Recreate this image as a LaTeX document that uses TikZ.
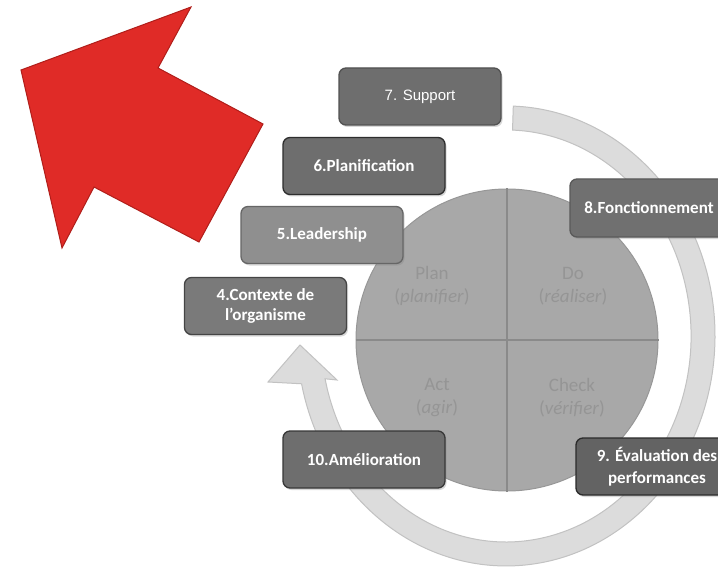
\documentclass[tikz,border=0pt]{standalone}
\usepackage{fontspec}
\newfontfamily\carl{Carlito}
\newfontfamily\libsans{Liberation Sans}
\usetikzlibrary{shadows}
\definecolor{ringfill}{HTML}{DCDCDC}
\definecolor{ringedge}{HTML}{C2C2C2}
\definecolor{pdcafill}{HTML}{A8A8A8}
\definecolor{pdcaedge}{HTML}{979797}
\definecolor{pdcaline}{HTML}{8A8A8A}
\definecolor{pdcatxt}{HTML}{959595}
\definecolor{redfill}{HTML}{E02B27}
\definecolor{rededge}{HTML}{B01E1A}
\begin{document}
\begin{tikzpicture}[x=1pt,y=-1pt,
  box/.style={rounded corners=7pt, line width=1.3pt, text=white, align=center,
    inner sep=0pt, minimum width=162pt, minimum height=57pt,
    font=\carl\bfseries\fontsize{17}{20}\selectfont,
    drop shadow={shadow xshift=1.5pt, shadow yshift=-2pt, opacity=0.3}},
  pdcatext/.style={text=pdcatxt, align=center, font=\carl\fontsize{19}{23}\selectfont}]
\useasboundingbox (0,0) rectangle (718,567);
\clip (0,0) rectangle (718,567);
\fill[white] (0,0) rectangle (718,567);
% red arrow
\filldraw[fill=redfill, draw=rededge, line width=1pt, line join=miter]
  (21,70) -- (191,7) -- (158,68) -- (263,124) -- (199,242) -- (94,187) -- (62,248) -- cycle;
% ring arrow
\filldraw[fill=ringfill, draw=ringedge, line width=1pt]
  (513.3,106.1) arc[start angle=-88, end angle=168, x radius=209, y radius=230]
  -- (268,382) -- (300,345) -- (337,380) -- (325.1,378.8)
  arc[start angle=168, end angle=-88, x radius=185, y radius=206] -- cycle;
% PDCA circle
\node[circle, fill=pdcafill, draw=pdcaedge, line width=1pt, minimum size=302pt, inner sep=0pt] (pdca) at (507,340) {};
\draw[pdcaline, line width=1.5pt] (pdca.north) -- (pdca.south);
\draw[pdcaline, line width=1.5pt] (pdca.west) -- (pdca.east);
\node[pdcatext] (plan) at (432,286) {Plan\\(\textit{planifier})};
\node[pdcatext] (do) at (573,286) {Do\\(\textit{réaliser})};
\node[pdcatext] (act) at (437,398) {Act\\(\textit{agir})};
\node[pdcatext] (check) at (572,398) {Check\\(\textit{vérifier})};
% boxes
\node[box, fill=black!57, draw=black!68, font=\libsans\fontsize{15}{18}\selectfont] (b7) at (420,96.5) {7. Support};
\node[box, fill=black!57, draw=black!82] (b6) at (364,166) {6.Planification};
\node[box, fill=black!44, draw=black!60] (b5) at (322,235) {5.Leadership};
\node[box, fill=black!52, draw=black!73] (b4) at (265.5,306) {4.Contexte de\\l’organisme};
\node[box, fill=black!56, draw=black!65, minimum width=158pt, minimum height=58pt] (b8) at (649,208) {8.Fonctionnement};
\node[box, fill=black!61, draw=black!83, font=\carl\bfseries\fontsize{17}{22}\selectfont] (b9) at (657,466.5) {9. Évaluation des\\performances};
\node[box, fill=black!57, draw=black!78] (b10) at (364,459.5) {10.Amélioration};
\end{tikzpicture}
\end{document}
